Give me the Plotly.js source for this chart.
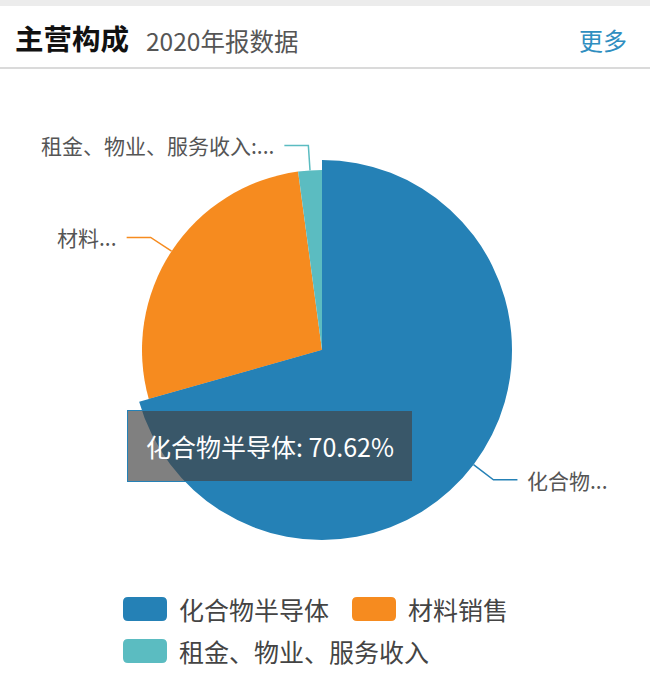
<!DOCTYPE html>
<html>
<head>
<meta charset="utf-8">
<script src="https://cdn.plot.ly/plotly-3.0.1.min.js"></script>
<style>html,body{margin:0;padding:0;background:#fff;}#chart{width:650px;height:700px;}</style>
</head>
<body>
<div id="chart"></div>
<script>
// ---- data ----
const categories = ['化合物半导体', '材料销售', '租金、物业、服务收入'];
const shares = [70.62, 27.26, 2.12];
const sliceColors = ['#2581b6', '#f68b1f', '#5bbcc1'];
const outsideLabels = ['化合物...', '材料...', '租金、物业、服务收入:...'];
const titleText = '主营构成';
const subtitleText = '2020年报数据';
const moreText = '更多';
const highlighted = 0;

// ---- layout helpers ----
const W = 650, H = 700;
const FONT = '"Noto Sans CJK SC", "Noto Sans", sans-serif';
const px = x => x / W;
const py = y => 1 - y / H;
const cx = 322, cy = 350, R = 180, Rh = 190;

function domainFor(r) {
  return { x: [px(cx - r), px(cx + r)], y: [py(cy + r), py(cy - r)] };
}

const basePie = {
  type: 'pie', labels: categories, values: shares, sort: false,
  direction: 'clockwise', rotation: 0, textinfo: 'none', hoverinfo: 'none',
  marker: { colors: sliceColors, line: { width: 0 } },
  domain: domainFor(R), showlegend: false
};
const emphPie = {
  type: 'pie', labels: categories, values: shares, sort: false,
  direction: 'clockwise', rotation: 0, textinfo: 'none', hoverinfo: 'none',
  marker: { colors: sliceColors.map((c, i) => i === highlighted ? c : 'rgba(0,0,0,0)'), line: { width: 0 } },
  domain: domainFor(Rh), showlegend: false
};

const shapes = [];
const annotations = [];

// header
shapes.push({ type: 'rect', xref: 'paper', yref: 'paper', x0: 0, x1: 1, y0: py(6), y1: 1, fillcolor: '#ececec', line: { width: 0 }, layer: 'below' });
shapes.push({ type: 'line', xref: 'paper', yref: 'paper', x0: 0, x1: 1, y0: py(68), y1: py(68), line: { color: '#dadada', width: 2 } });
annotations.push({ xref: 'paper', yref: 'paper', x: px(144), y: py(40), xanchor: 'left', yanchor: 'middle', showarrow: false, text: subtitleText, font: { family: FONT, size: 24.5, color: '#555' } });
annotations.push({ xref: 'paper', yref: 'paper', x: px(629), y: py(39), xanchor: 'right', yanchor: 'middle', showarrow: false, text: moreText, font: { family: FONT, size: 24, color: '#2f8ec0' } });

// leader lines + outside labels
const total = shares.reduce((a, b) => a + b, 0);
let cum = 0;
shares.forEach((v, i) => {
  const mid = (cum + v / 2) / total;
  cum += v;
  const th = mid * 2 * Math.PI;
  const s = Math.sin(th), c = Math.cos(th);
  const r0 = i === highlighted ? Rh : R;
  const x0 = cx + r0 * s, y0 = cy - r0 * c;
  const x1 = cx + (r0 + 25) * s, y1 = cy - (r0 + 25) * c;
  const dir = s >= 0 ? 1 : -1;
  const x2 = x1 + dir * 24;
  shapes.push({
    type: 'path', xref: 'paper', yref: 'paper',
    path: `M${px(x0)},${py(y0)} L${px(x1)},${py(y1)} L${px(x2)},${py(y1)}`,
    line: { color: sliceColors[i], width: 1.5 }
  });
  annotations.push({
    xref: 'paper', yref: 'paper', x: px(x2 + dir * 8), y: py(y1), xanchor: dir > 0 ? 'left' : 'right', yanchor: 'middle',
    showarrow: false, text: outsideLabels[i], font: { family: FONT, size: 21, color: '#555' }
  });
});

// tooltip
annotations.push({
  xref: 'paper', yref: 'paper', x: px(270), y: py(446), xanchor: 'center', yanchor: 'middle', showarrow: false,
  text: categories[highlighted] + ': ' + shares[highlighted].toFixed(2) + '%',
  font: { family: FONT, size: 25, color: '#ffffff' },
  bgcolor: 'rgba(68,68,68,0.68)', bordercolor: sliceColors[highlighted], borderwidth: 1,
  width: 278, height: 64, borderpad: 3, align: 'center'
});

// custom legend
function roundRect(x0, y0, w, h, r) {
  const X = v => px(v), Y = v => py(v);
  return `M${X(x0 + r)},${Y(y0)} L${X(x0 + w - r)},${Y(y0)} Q${X(x0 + w)},${Y(y0)} ${X(x0 + w)},${Y(y0 + r)} ` +
    `L${X(x0 + w)},${Y(y0 + h - r)} Q${X(x0 + w)},${Y(y0 + h)} ${X(x0 + w - r)},${Y(y0 + h)} ` +
    `L${X(x0 + r)},${Y(y0 + h)} Q${X(x0)},${Y(y0 + h)} ${X(x0)},${Y(y0 + h - r)} ` +
    `L${X(x0)},${Y(y0 + r)} Q${X(x0)},${Y(y0)} ${X(x0 + r)},${Y(y0)} Z`;
}
const legendPos = [[123, 609], [352, 609], [123, 651]];
categories.forEach((name, i) => {
  const [lx, ly] = legendPos[i];
  shapes.push({ type: 'path', xref: 'paper', yref: 'paper', path: roundRect(lx, ly - 12, 44, 24, 5), fillcolor: sliceColors[i], line: { width: 0 } });
  annotations.push({ xref: 'paper', yref: 'paper', x: px(lx + 54), y: py(ly), xanchor: 'left', yanchor: 'middle', showarrow: false, text: name, font: { family: FONT, size: 25, color: '#444' } });
});

const layout = {
  width: W, height: H,
  margin: { l: 0, r: 0, t: 0, b: 0 },
  paper_bgcolor: '#ffffff',
  plot_bgcolor: '#ffffff',
  showlegend: false,
  title: { text: '<b>' + titleText + '</b>', x: px(15), xanchor: 'left', xref: 'container', y: py(40), yref: 'container', yanchor: 'middle', font: { family: FONT, size: 28.5, color: '#111' } },
  shapes: shapes,
  annotations: annotations
};

Plotly.newPlot('chart', [basePie, emphPie], layout, { displayModeBar: false, staticPlot: true });
</script>
</body>
</html>
